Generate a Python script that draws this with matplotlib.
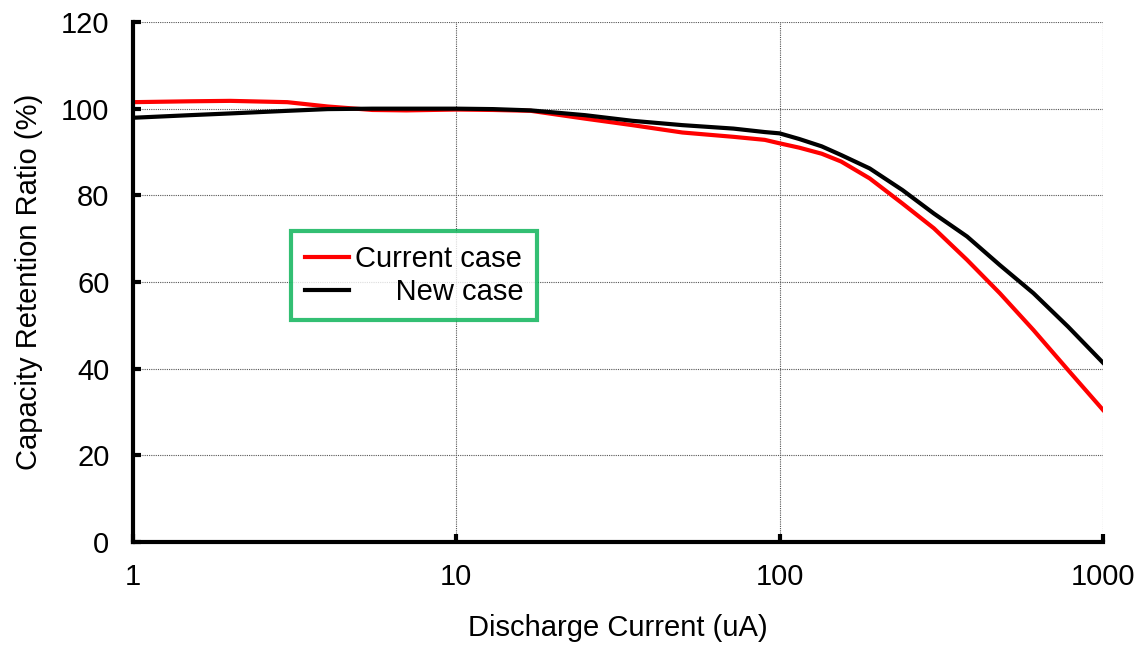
import matplotlib
matplotlib.use("Agg")
import matplotlib.pyplot as plt
from matplotlib.ticker import FixedLocator, NullLocator, FixedFormatter

plt.rcParams['font.family'] = ['Liberation Sans', 'DejaVu Sans']

# discharge current (uA) and retention ratio (%) for both cases
current_ua = [1, 1.5, 2, 3, 4, 5.5, 7, 10, 13, 17, 25, 35, 50, 72, 90, 100,
              115, 135, 155, 190, 240, 300, 380, 480, 610, 780, 1000]
current_case = [101.5, 101.7, 101.8, 101.5, 100.5, 99.7, 99.6, 99.8, 99.7,
                99.5, 97.7, 96.2, 94.5, 93.5, 92.8, 92.0, 91.0, 89.6, 87.8,
                83.9, 78.1, 72.4, 65.1, 57.4, 48.9, 39.7, 30.5]
new_case = [97.9, 98.5, 98.9, 99.5, 99.9, 100.0, 100.0, 100.0, 99.9, 99.6,
            98.5, 97.2, 96.2, 95.4, 94.6, 94.3, 93.0, 91.3, 89.3, 86.2,
            81.2, 75.8, 70.5, 63.9, 57.4, 49.7, 41.4]

x_ticks = [1, 10, 100, 1000]
x_tick_labels = ['1', '10', '100', '1000']
y_ticks = [0, 20, 40, 60, 80, 100, 120]

fig = plt.figure(figsize=(11.41, 6.47), dpi=100)
ax = fig.add_axes([0.1166, 0.1623, 0.85, 0.8037])

ax.plot(current_ua, current_case, color='#ff0000', lw=3, label='Current case',
        solid_joinstyle='round', zorder=3)
ax.plot(current_ua, new_case, color='black', lw=3, label='     New case',
        solid_joinstyle='round', zorder=3)

ax.set_xscale('log')
ax.set_xlim(1, 1000)
ax.set_ylim(0, 120)
ax.xaxis.set_major_locator(FixedLocator(x_ticks))
ax.xaxis.set_major_formatter(FixedFormatter(x_tick_labels))
ax.xaxis.set_minor_locator(NullLocator())
ax.set_yticks(y_ticks)

ax.grid(True, which='major', color='#555555', lw=0.8, ls=(0, (1, 1)))
ax.set_axisbelow(True)

for side in ['top', 'right']:
    ax.spines[side].set_visible(False)
for side in ['left', 'bottom']:
    ax.spines[side].set_linewidth(3)
    ax.spines[side].set_zorder(4)

ax.tick_params(axis='both', direction='in', length=6, width=3, labelsize=21)
ax.tick_params(axis='x', pad=15)
ax.tick_params(axis='y', pad=17)

ax.set_xlabel('Discharge Current (uA)', fontsize=21, labelpad=17)
ax.set_ylabel('Capacity Retention Ratio (%)', fontsize=21, labelpad=13)

leg = ax.legend(loc='upper left', bbox_to_anchor=(0.163, 0.598),
                fontsize=21, frameon=True, fancybox=False,
                handlelength=1.5, handletextpad=0.2, labelspacing=0.17,
                borderpad=0.48, borderaxespad=0)
leg.get_frame().set_edgecolor('#00b050')
leg.get_frame().set_linewidth(3)

fig.savefig('out.png', dpi=100)
